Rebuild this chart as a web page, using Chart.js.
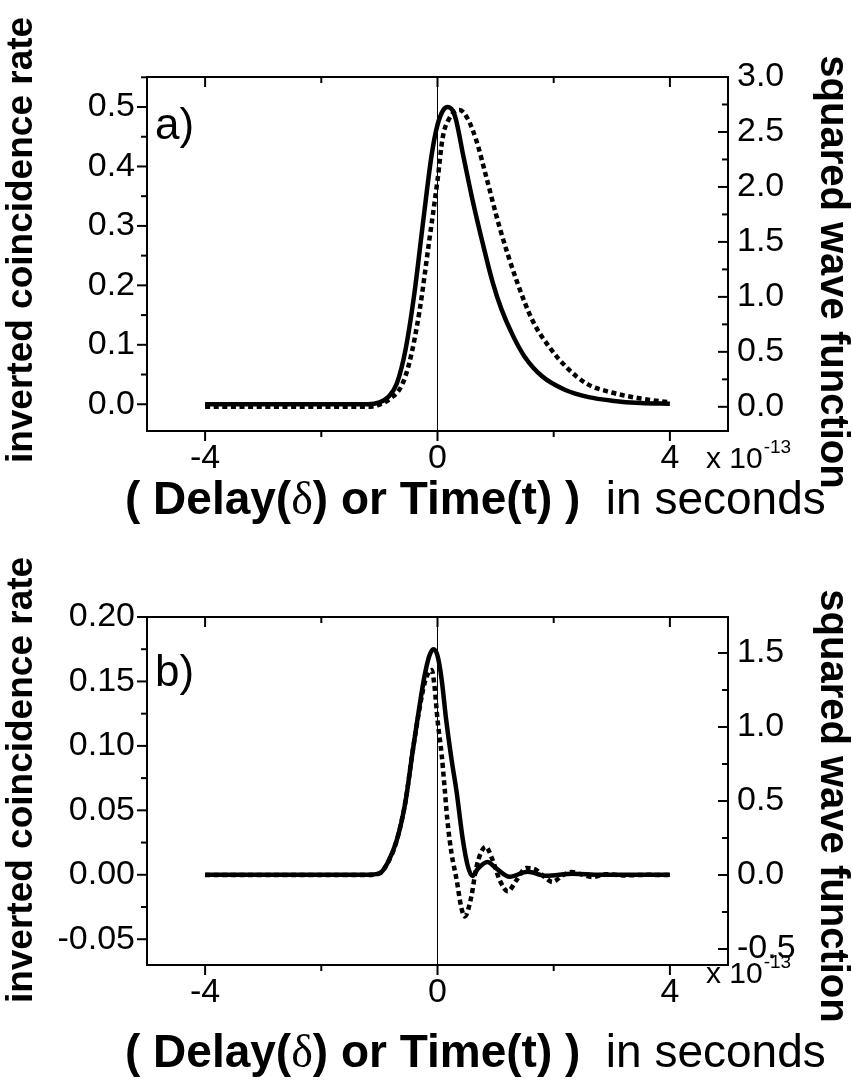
<!DOCTYPE html>
<html>
<head>
<meta charset="utf-8">
<script src="https://cdn.jsdelivr.net/npm/chart.js@4.4.0/dist/chart.umd.min.js"></script>
<style>
  body { margin: 0; background: #fff; }
  #wrap { position: relative; width: 852px; height: 1087px; }
  canvas { position: absolute; left: 0; }
</style>
</head>
<body>
<div id="wrap">
  <canvas id="panelA" width="852" height="543" style="top:0"></canvas>
  <canvas id="panelB" width="852" height="544" style="top:543px"></canvas>
</div>
<script>
// ---- data (x in units of 1e-13 s) ----
var xTickLabels = [-4, 0, 4];

// panel a) solid = inverted coincidence rate (left), dashed = squared wave function (right)
var xSolidA = [-4, -3, -2, -1.5, -1.2, -1.0, -0.85, -0.7, -0.55, -0.4, -0.25, -0.1, 0, 0.1, 0.18, 0.3, 0.45, 0.6, 0.78, 0.95, 1.1, 1.3, 1.5, 1.8, 2.2, 2.6, 3.0, 3.5, 4.0];
var solidA  = [0, 0, 0, 0, 0, 0.003, 0.012, 0.035, 0.092, 0.185, 0.305, 0.42, 0.47, 0.495, 0.5, 0.485, 0.415, 0.345, 0.27, 0.205, 0.16, 0.115, 0.08, 0.047, 0.024, 0.012, 0.006, 0.002, 0.001];
var xDashA  = [-4, -3, -2, -1.5, -1.2, -1.0, -0.8, -0.62, -0.48, -0.31, -0.14, 0, 0.09, 0.2, 0.38, 0.52, 0.67, 0.84, 1.07, 1.36, 1.64, 1.93, 2.22, 2.57, 3.0, 3.5, 4.0];
var dashedA = [0, 0, 0, 0, 0, 0.02, 0.08, 0.19, 0.41, 0.87, 1.52, 2.06, 2.45, 2.62, 2.70, 2.62, 2.42, 2.09, 1.63, 1.15, 0.78, 0.54, 0.36, 0.21, 0.13, 0.075, 0.04];

// panel b)
var xSolidB = [-4, -2, -1.2, -1.0, -0.85, -0.7, -0.55, -0.43, -0.32, -0.22, -0.14, -0.07, 0, 0.07, 0.15, 0.24, 0.33, 0.43, 0.52, 0.6, 0.7, 0.86, 1.01, 1.24, 1.55, 1.87, 2.33, 2.8, 3.5, 4];
var solidB  = [0, 0, 0, 0.001, 0.010, 0.027, 0.057, 0.095, 0.128, 0.155, 0.170, 0.175, 0.170, 0.152, 0.12, 0.09, 0.064, 0.029, 0.007, -0.001, 0.005, 0.010, 0.005, -0.0015, 0.0023, -0.0008, 0.0008, 0, 0, 0];
var xDashB  = [-4, -2, -1.2, -1.0, -0.85, -0.7, -0.55, -0.43, -0.32, -0.22, -0.15, -0.1, -0.05, 0, 0.07, 0.12, 0.17, 0.24, 0.33, 0.41, 0.47, 0.58, 0.67, 0.83, 0.95, 1.07, 1.21, 1.36, 1.53, 1.7, 1.84, 1.98, 2.16, 2.31, 2.45, 2.67, 2.9, 3.2, 3.6, 4];
var dashedB = [0, 0, 0, 0.01, 0.087, 0.235, 0.50, 0.83, 1.10, 1.30, 1.37, 1.385, 1.27, 1.05, 0.82, 0.6, 0.37, 0.15, -0.034, -0.22, -0.28, -0.15, 0.054, 0.19, 0.10, -0.034, -0.11, -0.034, 0.047, 0.034, -0.013, -0.047, 0, 0.02, 0.007, -0.013, 0.005, -0.003, 0.001, 0];

Chart.defaults.font.family = "'Liberation Sans', Arial, sans-serif";
Chart.defaults.color = '#000';

function pts(xs, ys) {
    return xs.map(function (x, i) { return { x: x, y: ys[i] }; });
}

function fmt(d) {
    return function (v) { return Number(v).toFixed(d); };
}

// tick marks, frame, zero line and the loose texts
var decor = {
    id: 'decor',
    afterDraw: function (chart) {
        var o = chart.options.plugins.decor;
        var a = chart.chartArea, ctx = chart.ctx;
        var sx = chart.scales.x, yl = chart.scales.y, yr = chart.scales.y2;

        function line(x1, y1, x2, y2) {
            ctx.beginPath(); ctx.moveTo(x1, y1); ctx.lineTo(x2, y2); ctx.stroke();
        }
        function marks(scale) {
            var maj = scale.ticks.map(function (t) { return t.value; });
            var step = maj[1] - maj[0], minr = [];
            for (var i = -1; i < maj.length; i++) {
                var m = maj[0] + (i + 0.5) * step;
                if (m >= scale.min - 1e-9 && m <= scale.max + 1e-9) minr.push(m);
            }
            return { maj: maj, min: minr };
        }

        ctx.save();
        ctx.strokeStyle = '#000';
        ctx.lineWidth = 1;
        var z = sx.getPixelForValue(0);
        line(z, a.top, z, a.bottom);

        ctx.lineWidth = 2;
        var mx = marks(sx);
        mx.maj.forEach(function (v) { var p = sx.getPixelForValue(v); line(p, a.bottom, p, a.bottom + 10); line(p, a.top, p, a.top + 10); });
        mx.min.forEach(function (v) { var p = sx.getPixelForValue(v); line(p, a.bottom, p, a.bottom + 6); line(p, a.top, p, a.top + 6); });
        var ml = marks(yl);
        ml.maj.forEach(function (v) { var p = yl.getPixelForValue(v); line(a.left - 10, p, a.left, p); });
        ml.min.forEach(function (v) { var p = yl.getPixelForValue(v); line(a.left - 6, p, a.left, p); });
        var mr = marks(yr);
        mr.maj.forEach(function (v) { var p = yr.getPixelForValue(v); line(a.right - 10, p, a.right, p); });
        mr.min.forEach(function (v) { var p = yr.getPixelForValue(v); line(a.right - 6, p, a.right, p); });

        ctx.strokeRect(a.left, a.top, a.right - a.left, a.bottom - a.top);

        ctx.fillStyle = '#000';
        ctx.textBaseline = 'alphabetic';
        ctx.textAlign = 'left';
        // panel letter
        ctx.font = "44px 'Liberation Sans', Arial";
        ctx.fillText(o.letter, a.left + 8, a.top + o.letterDy);

        // x 10^-13
        ctx.font = "30px 'Liberation Sans', Arial";
        ctx.fillText('x 10', o.x10[0], o.x10[1]);
        var w = ctx.measureText('x 10').width;
        ctx.font = "19px 'Liberation Sans', Arial";
        ctx.fillText('-13', o.x10[0] + w + 1, o.x10[1] - 15);

        // bottom title
        var tx = o.title[0], ty = o.title[1];
        var parts = [
            ["bold 46px 'Liberation Sans', Arial", '( Delay('],
            ["46px 'Liberation Serif', serif", '\u03b4'],
            ["bold 46px 'Liberation Sans', Arial", ') or Time(t) )'],
            ["46px 'Liberation Sans', Arial", '  in seconds']
        ];
        parts.forEach(function (p) {
            ctx.font = p[0];
            ctx.fillText(p[1], tx, ty);
            tx += ctx.measureText(p[1]).width;
        });

        // left title
        ctx.textAlign = 'center';
        ctx.textBaseline = 'middle';
        ctx.font = "bold 37px 'Liberation Sans', Arial";
        ctx.save();
        ctx.translate(o.leftTitle[0], o.leftTitle[1]);
        ctx.rotate(-Math.PI / 2);
        ctx.fillText('inverted coincidence rate', 0, 0);
        ctx.restore();
        // right title
        ctx.font = "bold 40px 'Liberation Sans', Arial";
        ctx.save();
        ctx.translate(o.rightTitle[0], o.rightTitle[1]);
        ctx.rotate(Math.PI / 2);
        ctx.fillText('squared wave function', 0, 0);
        ctx.restore();

        ctx.restore();
    }
};

function panel(id, p) {
    var h = document.getElementById(id).height;
    return new Chart(document.getElementById(id).getContext('2d'), {
        type: 'line',
        data: {
            datasets: [{
                label: 'inverted coincidence rate',
                data: pts(p.xs1, p.ys1),
                yAxisID: 'y',
                borderColor: '#000',
                borderWidth: 4.5,
                pointRadius: 0,
                cubicInterpolationMode: 'monotone',
                fill: false
            }, {
                label: 'squared wave function',
                data: pts(p.xs2, p.ys2),
                yAxisID: 'y2',
                borderColor: '#000',
                borderWidth: 4.5,
                borderDash: [5, 3.6],
                pointRadius: 0,
                cubicInterpolationMode: 'monotone',
                fill: false
            }]
        },
        options: {
            responsive: false,
            animation: false,
            events: [],
            layout: { padding: { top: p.top, left: 0, right: 0, bottom: 0 } },
            plugins: {
                legend: { display: false },
                tooltip: { enabled: false },
                decor: p.decor
            },
            scales: {
                x: {
                    type: 'linear', min: -5, max: 5,
                    grid: { display: false, drawTicks: false }, border: { display: false },
                    afterBuildTicks: function (s) { s.ticks = xTickLabels.map(function (v) { return { value: v }; }); },
                    afterFit: function (s) { s.height = h - p.bottom; },
                    ticks: { font: { size: 34 }, padding: 7, maxRotation: 0, autoSkip: false }
                },
                y: {
                    position: 'left', min: p.lmin, max: p.lmax,
                    grid: { display: false, drawTicks: false }, border: { display: false },
                    afterFit: function (s) { s.width = 147; },
                    ticks: { stepSize: p.lstep, includeBounds: false, font: { size: 34 }, padding: 12, callback: fmt(p.ldec) }
                },
                y2: {
                    position: 'right', min: p.rmin, max: p.rmax,
                    grid: { display: false, drawTicks: false }, border: { display: false },
                    afterFit: function (s) { s.width = 852 - 728; },
                    ticks: { stepSize: 0.5, includeBounds: false, font: { size: 34 }, padding: 9, callback: fmt(1) }
                }
            }
        },
        plugins: [decor]
    });
}

panel('panelA', {
    xs1: xSolidA, ys1: solidA, xs2: xDashA, ys2: dashedA,
    top: 77, bottom: 431,
    lmin: -0.045, lmax: 0.5505, lstep: 0.1, ldec: 1,
    rmin: -0.22, rmax: 3.0,
    decor: { letter: 'a)', letterDy: 62, x10: [706, 468], title: [125, 514], leftTitle: [22, 240], rightTitle: [832, 272] }
});

panel('panelB', {
    xs1: xSolidB, ys1: solidB, xs2: xDashB, ys2: dashedB,
    top: 74, bottom: 422,
    lmin: -0.07, lmax: 0.2, lstep: 0.05, ldec: 2,
    rmin: -0.608, rmax: 1.743,
    decor: { letter: 'b)', letterDy: 69, x10: [706, 440], title: [125, 524], leftTitle: [22, 237], rightTitle: [832, 263] }
});
</script>
</body>
</html>
